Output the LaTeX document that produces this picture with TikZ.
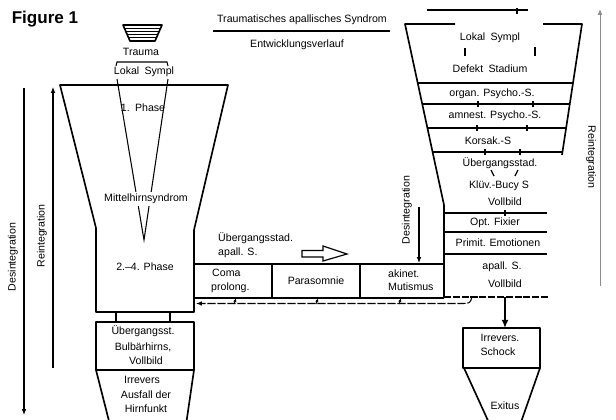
\documentclass[tikz,border=0pt]{standalone}
\usepackage{fontspec}
\setmainfont{Liberation Sans}
\usetikzlibrary{arrows.meta}
\begin{document}
\begin{tikzpicture}[x=0.85pt,y=-0.85pt,
  outline/.style={line width=1.4pt, line join=round},
  rule/.style={line width=0.9pt},
  lbl/.style={font=\fontsize{9}{10}\selectfont, inner sep=0pt, align=center},
  vlbl/.style={lbl, rotate=90},
  tipline/.style={line width=0.9pt, -{Latex[length=5pt,width=4pt]}},
  tick/.style={line width=1pt},
]
\useasboundingbox (0,0) rectangle (616,420);
\clip (0,0) rectangle (616,420);

% caption and heading
\node[font=\bfseries\fontsize{14.5}{16}\selectfont, inner sep=0pt] (fig) at (45,19) {Figure 1};
\node[lbl] (title) at (302,20) {Traumatisches apallisches Syndrom};
\draw[rule] (213,31) -- (390,31);
\node[lbl] (subtitle) at (297,45) {Entwicklungsverlauf};

% trauma symbol
\begin{scope}
  \clip (123,25) -- (162,25) -- (155,41) -- (130,41) -- cycle;
  \foreach \yy in {28,31,34,37,40} \draw[line width=0.8pt] (120,\yy) -- (165,\yy);
\end{scope}
\draw[outline] (123,25) -- (162,25) -- (155,41) -- (130,41) -- cycle;
\node[lbl] (trauma) at (141,52) {Trauma};
\draw[rule] (116,66) -- (117,62) -- (167,62) -- (168,66);
\node[lbl] (lokalL) at (144,72) {Lokal\enspace Sympl};

% left funnel: midbrain syndrome
\draw[outline] (60,85) -- (96,228) -- (96,312) -- (194,312) -- (194,230) -- (228,85) -- cycle;
\coordinate (apex) at (144,240);
\draw[rule] (117,79) -- (apex) -- (168,79);
\node[lbl] (ph1) at (143,108) {1.\enspace Phase};
\node[lbl, fill=white, inner sep=1.5pt] (mhs) at (146,199) {Mittelhirnsyndrom};
\node[lbl] (ph24) at (145,267) {2.–4. Phase};

% links to bulbar stage
\draw[line width=2pt] (116,312) -- (116,322);
\draw[line width=2pt] (170,312) -- (170,322);
\draw[outline] (96,322) rectangle (194,370);
\node[lbl] (ueb1) at (143,331) {Übergangsst.};
\node[lbl] (bulb) at (143,347) {Bulbärhirns,};
\node[lbl] (vb1) at (146,361) {Vollbild};
\draw[outline] (110,425) -- (96,370) -- (194,370) -- (186,425);
\node[lbl] (irr1) at (142,380) {Irrevers};
\node[lbl] (ausf) at (146,395) {Ausfall der};
\node[lbl] (hirn) at (146,409) {Hirnfunkt};

% side arrows
\coordinate (dtop) at (24,88);
\coordinate (dbot) at (24,415);
\draw[tipline] (dtop) -- (dbot);
\node[vlbl] (desL) at (13,257) {Desintegration};
\coordinate (rbot) at (53,368);
\coordinate (rtop) at (53,87);
\draw[tipline] (rbot) -- (rtop);
\node[vlbl] (reiL) at (42,236) {Reintegration};

% transitional stage row
\draw[outline] (194,264) -- (444,264);
\draw[outline] (194,298) -- (444,298);
\draw[outline] (272,264) -- (272,298);
\draw[outline] (360,264) -- (360,298);
\node[lbl, anchor=west] (coma) at (212,273) {Coma};
\node[lbl, anchor=west] (prol) at (211,288) {prolong.};
\node[lbl] (para) at (316,281) {Parasomnie};
\node[lbl, anchor=west, align=left] (akin) at (388,280) {akinet.\\[1.5pt]Mutismus};
\node[lbl, anchor=west, align=left] (uebA) at (218,245) {Übergangsstad.\\[2pt]apall. S.};
\draw[line width=1pt, line join=miter] (302,250.5) -- (323,250.5) -- (323,246) -- (347,254) -- (323,261) -- (323,257) -- (302,257) -- cycle;

% right funnel: recovery stages
\draw[rule] (427,10) -- (528,10);
\draw[tick] (517,8) -- (517,14);
\draw[outline] (455,24) -- (405,24) -- (444,205) -- (444,298);
\draw[outline] (543,24) -- (582,24) -- (562,155);
\node[lbl] (lokalR) at (490,38) {Lokal\enspace Sympl};
\draw[tick] (465,48) -- (465,56);
\draw[tick] (535,47) -- (535,56);
\node[lbl] (defekt) at (490,69) {Defekt\enspace Stadium};
\draw[rule] (417.7,83) -- (573,83);
\node[lbl] (org) at (492,94) {organ. Psycho.-S.};
\draw[rule] (422.2,104) -- (569.8,104);
\node[lbl] (amn) at (495,116) {amnest. Psycho.-S.};
\draw[rule] (427.4,128) -- (566.1,128);
\node[lbl] (kors) at (488,141) {Korsak.-S};
\draw[rule] (432.6,152) -- (562.5,152);
\foreach \xx/\yy in {478/104,533/104,477/128,527/128,485/152,520/152,505/213}
  \draw[tick] (\xx,\yy-3) -- (\xx,\yy+3);
\node[lbl] (uebR) at (500,163) {Übergangsstad.};
\draw[tick] (491,170) -- (494,176);
\draw[tick] (518,170) -- (515,176);
\node[lbl] (kluev) at (499,186) {Klüv.-Bucy S};
\node[lbl] (vbR1) at (505,202) {Vollbild};
\draw[rule] (444,213) -- (547,213);
\node[lbl] (opt) at (495,223) {Opt. Fixier};
\draw[rule] (444,232) -- (547,232);
\node[lbl] (prim) at (498,243) {Primit. Emotionen};
\draw[rule] (444,254) -- (547,254);
\node[lbl] (apall) at (502,267) {apall. S.};
\node[lbl] (vbR2) at (505,284) {Vollbild};
\draw[rule, dash pattern=on 6pt off 1.5pt] (444,297) -- (548,297);

% disintegration into the row
\node[vlbl] (desM) at (407,210) {Desintegration};
\coordinate (dm1) at (419,207);
\coordinate (dm2) at (419,263);
\draw[tipline] (dm1) -- (dm2);

% far-right reintegration
\coordinate (rr1) at (600,286);
\coordinate (rr2) at (600,9);
\draw[line width=0.7pt, black!45, -{Latex[length=5pt,width=4pt]}] (rr1) -- (rr2);
\node[lbl, rotate=-90] (reiR) at (591,157) {Reintegration};

% return path back to the midbrain stage
\coordinate (ret0) at (472,297);
\coordinate (ret1) at (196,303.5);
\draw[line width=0.9pt, dash pattern=on 7pt off 1.5pt, -{Latex[length=5pt,width=4pt]}]
  (ret0) .. controls (470,303.5) .. (460,303.5) -- (ret1);
\foreach \xx in {235,317,400}
  \draw[line width=0.8pt, -{Latex[length=3pt,width=3pt]}] (\xx-1,304) -- (\xx+1,298.5);

% irreversible shock and exitus
\coordinate (sh0) at (505,297);
\coordinate (sh1) at (505,328);
\draw[line width=2pt, -{Latex[length=7pt,width=6pt]}] (sh0) -- (sh1);
\draw[outline] (463,328) rectangle (540,368);
\node[lbl] (irr2) at (500,338) {Irrevers.};
\node[lbl] (schock) at (498,352) {Schock};
\draw[outline] (490,425) -- (464,368) -- (540,368) -- (520,425);
\node[lbl] (exitus) at (505,406) {Exitus};
\end{tikzpicture}
\end{document}
